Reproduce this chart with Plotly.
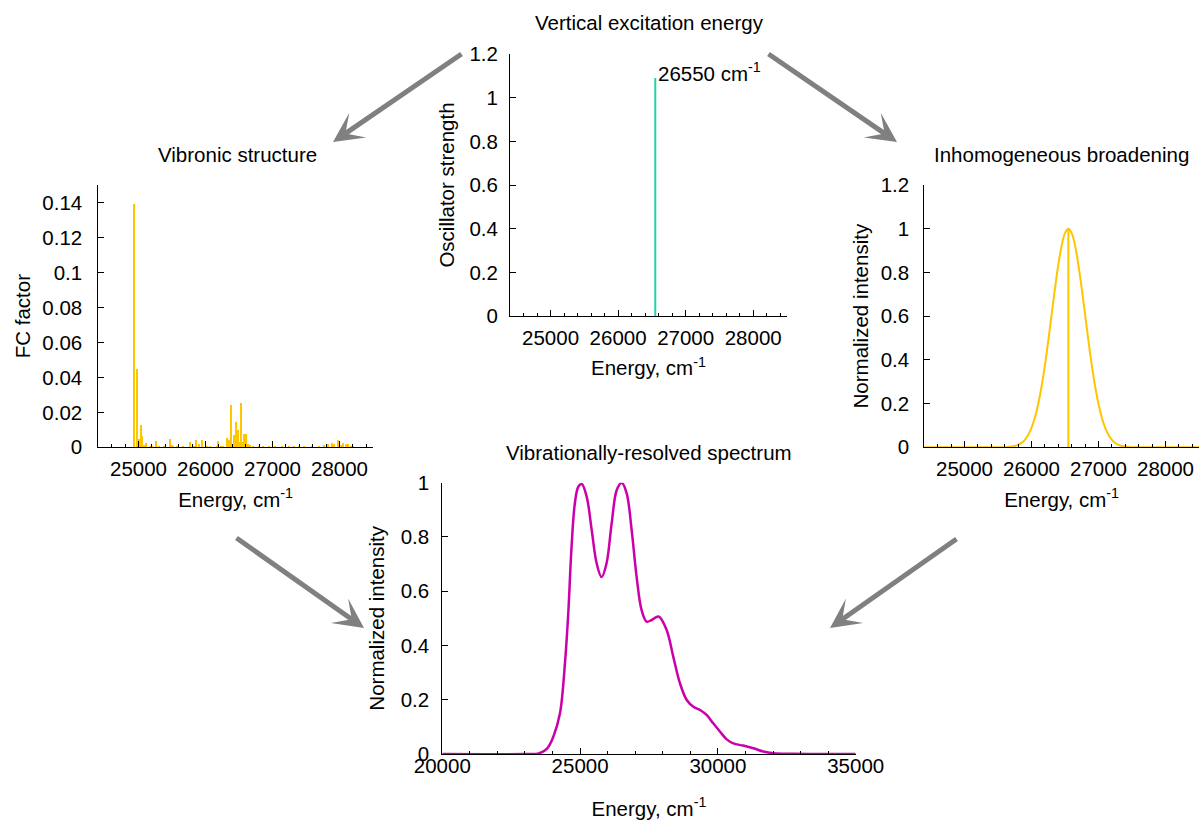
import plotly.graph_objects as go

W, H = 1199, 820

# ---------------- data ----------------
# Vertical excitation energy (stick)
vee_energy = [26550, 26550]
vee_strength = [0.0, 1.09]
vee_label = "26550 cm<sup>-1</sup>"

# Vibronic structure: FC factors (stick spectrum)
fc_energy = [24940, 24990, 25012, 25048, 25067, 25090, 25122, 25180, 25210, 25266,
             25310, 25385, 25475, 25505, 25530, 25590, 25670, 25774, 25830, 25868,
             25918, 25958, 26030, 26070, 26180, 26201, 26240, 26275, 26326, 26355,
             26385, 26415, 26440, 26465, 26490, 26520, 26540, 26565, 26590, 26610,
             26635, 26675, 26710, 26800, 26870, 26950, 27050, 27150, 27250, 27330,
             27400, 27480, 27600, 27700, 27779, 27830, 27900, 27930, 27993, 28030,
             28065, 28105, 28140, 28175, 28215]
fc_factor = [0.139, 0.045, 0.0048, 0.013, 0.0067, 0.0015, 0.0025, 0.001, 0.0008, 0.0034,
             0.001, 0.0008, 0.0046, 0.0015, 0.001, 0.001, 0.0008, 0.0032, 0.0008, 0.0042,
             0.002, 0.0044, 0.001, 0.001, 0.0008, 0.0036, 0.001, 0.0008, 0.0053, 0.004,
             0.024, 0.002, 0.0071, 0.0143, 0.0101, 0.0033, 0.0254, 0.0029, 0.0078, 0.0075,
             0.002, 0.0013, 0.0008, 0.0005, 0.0005, 0.0006, 0.0006, 0.0005, 0.0005, 0.0008,
             0.0006, 0.0005, 0.0005, 0.0005, 0.0015, 0.0019, 0.0025, 0.0018, 0.004, 0.0013,
             0.0025, 0.0018, 0.0021, 0.001, 0.0008]

# Inhomogeneous broadening (line shape)
ib_energy = [24400, 25400, 25550, 25650, 25750, 25800, 25850, 25900, 25950, 26000,
             26050, 26100, 26150, 26200, 26250, 26300, 26350, 26400, 26450, 26500,
             26550, 26600, 26650, 26700, 26750, 26800, 26850, 26900, 26950, 27000,
             27050, 27100, 27150, 27200, 27250, 27300, 27350, 27450, 27550, 27700, 28500]
ib_intensity = [0, 0, 0.0003, 0.0015, 0.006, 0.011, 0.020, 0.034, 0.056, 0.089,
                0.135, 0.198, 0.278, 0.375, 0.487, 0.607, 0.726, 0.835, 0.923, 0.980,
                1.0, 0.980, 0.923, 0.835, 0.726, 0.607, 0.487, 0.375, 0.278, 0.198,
                0.135, 0.089, 0.056, 0.034, 0.020, 0.011, 0.006, 0.0015, 0.0003, 0, 0]
ib_center = [26550, 26550]
ib_center_h = [0.0, 1.0]

# Vibrationally-resolved spectrum
vr_energy = [20000, 23000, 23500, 23800, 24030, 24270, 24450, 24570, 24690, 24810,
             24935, 25060, 25240, 25420, 25600, 25780, 25960, 26145, 26330, 26510,
             26690, 26870, 27050, 27230, 27415, 27600, 27850, 28140, 28380, 28625,
             28870, 29110, 29350, 29590, 29830, 30080, 30320, 30560, 30920, 31290,
             31650, 32010, 32740, 35000]
vr_intensity = [0, 0, 0.002, 0.02, 0.064, 0.15, 0.334, 0.518, 0.764, 0.924,
                0.985, 0.995, 0.948, 0.826, 0.703, 0.652, 0.703, 0.85, 0.973, 1.0,
                0.961, 0.826, 0.654, 0.531, 0.488, 0.494, 0.507, 0.457, 0.359, 0.26,
                0.199, 0.174, 0.162, 0.144, 0.113, 0.082, 0.054, 0.039, 0.031, 0.021,
                0.009, 0.003, 0.001, 0]

panel_titles = ["Vertical excitation energy", "Vibronic structure",
                "Inhomogeneous broadening", "Vibrationally-resolved spectrum"]
x_title = "Energy, cm<sup>-1</sup>"

# ---------------- style ----------------
FONT = "Liberation Sans, Arial, Helvetica, sans-serif"
FS = 20.5
TEAL = "#22d2ae"
YELLOW = "#ffc600"
MAGENTA = "#cc00aa"
ARROW = "#808080"


def px_x(p):
    return p / W


def px_y(p):
    return 1 - p / H


# panel boxes in window pixels: (left, right, top, bottom)
boxes = {
    "top": (510, 787, 54, 316),
    "left": (98.3, 373, 185, 447.3),
    "right": (924.3, 1199, 185, 447.3),
    "bottom": (442.3, 855.7, 482.7, 754),
}


def dom(box):
    l, r, t, b = box
    return [px_x(l), min(1.0, px_x(r))], [px_y(b), px_y(t)]


fig = go.Figure()

fig.add_trace(go.Scatter(x=vee_energy, y=vee_strength, mode="lines",
                         line=dict(color=TEAL, width=2), xaxis="x", yaxis="y",
                         showlegend=False, hoverinfo="skip"))
fig.add_trace(go.Bar(x=fc_energy, y=fc_factor, width=22, marker=dict(color=YELLOW, line=dict(width=0)),
                     xaxis="x2", yaxis="y2", showlegend=False, hoverinfo="skip"))
fig.add_trace(go.Scatter(x=ib_energy, y=ib_intensity, mode="lines", line_shape="spline",
                         line=dict(color=YELLOW, width=2), xaxis="x3", yaxis="y3",
                         showlegend=False, hoverinfo="skip"))
fig.add_trace(go.Scatter(x=ib_center, y=ib_center_h, mode="lines",
                         line=dict(color=YELLOW, width=2), xaxis="x3", yaxis="y3",
                         showlegend=False, hoverinfo="skip"))
fig.add_trace(go.Scatter(x=vr_energy, y=vr_intensity, mode="lines", line_shape="spline",
                         line=dict(color=MAGENTA, width=2.5), xaxis="x4", yaxis="y4",
                         showlegend=False, hoverinfo="skip"))

common = dict(showline=True, linecolor="black", linewidth=1, ticks="inside",
              ticklen=6, tickwidth=1, tickcolor="black", showgrid=False,
              zeroline=False, mirror=False,
              tickfont=dict(family=FONT, size=FS, color="black"),
              title_font=dict(family=FONT, size=FS, color="black"))

ex_x = dict(range=[24400, 28500], tick0=25000, dtick=1000, tickformat="d",
            minor=dict(ticks="inside", ticklen=3, dtick=200, tick0=25000, tickcolor="black"),
            title=dict(text=x_title, standoff=13), ticklabelstandoff=3)

d_top = dom(boxes["top"])
d_left = dom(boxes["left"])
d_right = dom(boxes["right"])
d_bot = dom(boxes["bottom"])

fig.update_layout(
    xaxis=dict(**common, **ex_x, domain=d_top[0], anchor="y"),
    yaxis=dict(**common, domain=d_top[1], anchor="x", range=[0, 1.2], dtick=0.2,
               ticklabelstandoff=7, title=dict(text="Oscillator strength", standoff=9)),
    xaxis2=dict(**common, **ex_x, domain=d_left[0], anchor="y2"),
    yaxis2=dict(**common, domain=d_left[1], anchor="x2", range=[0, 0.15], dtick=0.02,
                ticklabelstandoff=11, title=dict(text="FC factor", standoff=6)),
    xaxis3=dict(**common, **ex_x, domain=d_right[0], anchor="y3"),
    yaxis3=dict(**common, domain=d_right[1], anchor="x3", range=[0, 1.2], dtick=0.2,
                ticklabelstandoff=10, title=dict(text="Normalized intensity", standoff=6)),
    xaxis4=dict(**common, domain=d_bot[0], anchor="y4", range=[20000, 35000], tick0=20000,
                dtick=5000, tickformat="d",
                minor=dict(ticks="inside", ticklen=3, dtick=1000, tickcolor="black"),
                ticklabelstandoff=-7, title=dict(text=x_title, standoff=27)),
    yaxis4=dict(**common, domain=d_bot[1], anchor="x4", range=[0, 1], dtick=0.2,
                ticklabelstandoff=8, title=dict(text="Normalized intensity", standoff=10)),
    width=W, height=H,
    margin=dict(l=0, r=0, t=0, b=0, autoexpand=False),
    paper_bgcolor="white", plot_bgcolor="white",
    font=dict(family=FONT, size=FS, color="black"),
    bargap=0,
)

annotations = []
# panel titles (centres in window pixels)
title_centres = [(649, 22), (237, 155), (1061, 155), (649, 452)]
for title, (cx, cy) in zip(panel_titles, title_centres):
    annotations.append(dict(text=title, x=px_x(cx), y=px_y(cy), xref="paper", yref="paper",
                            xanchor="center", yanchor="middle", showarrow=False,
                            font=dict(family=FONT, size=FS, color="black")))

# label on the stick
annotations.append(dict(text=vee_label, x=vee_energy[1], y=vee_strength[1], xref="x", yref="y",
                        xanchor="left", yanchor="middle", xshift=1, yshift=6, showarrow=False,
                        font=dict(family=FONT, size=FS, color="black")))

# arrows: (head_x, head_y, tail_x, tail_y) in window pixels
arrows = [(333, 142, 463, 53), (897, 142, 767, 53), (364, 628, 235, 537), (830, 628, 958, 538)]
for hx, hy, tx, ty in arrows:
    annotations.append(dict(text="", x=px_x(hx), y=px_y(hy), xref="paper", yref="paper",
                            ax=tx - hx, ay=ty - hy, axref="pixel", ayref="pixel",
                            showarrow=True, arrowhead=3, arrowsize=1.0, arrowwidth=5,
                            arrowcolor=ARROW, standoff=0))

fig.update_layout(annotations=annotations)

fig.write_html("out.html", config={"displayModeBar": False},
               post_script="document.body.style.margin='0px';document.body.style.overflow='hidden';")
